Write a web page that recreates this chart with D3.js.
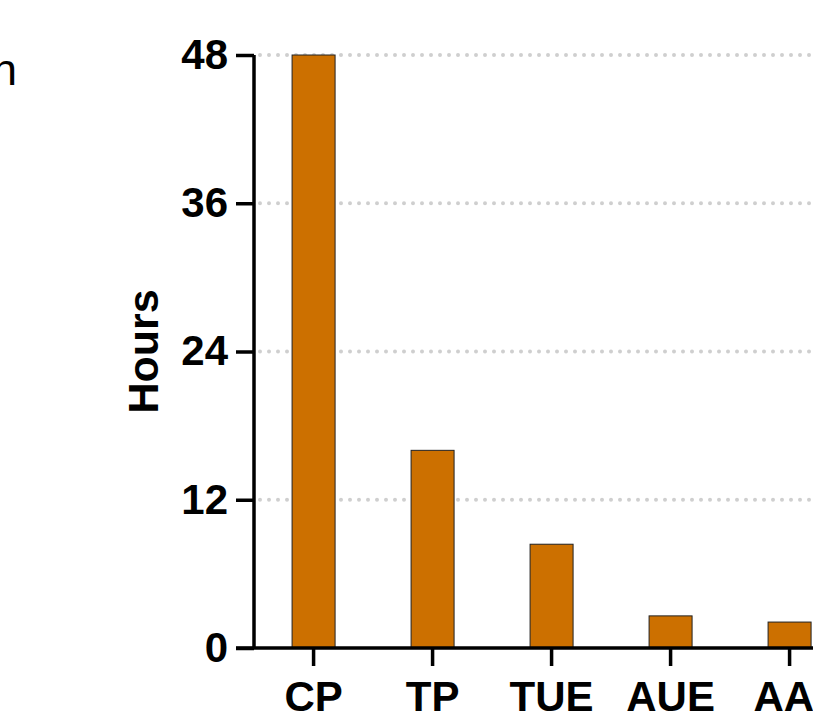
<!DOCTYPE html>
<html>
<head>
<meta charset="utf-8">
<script src="https://cdn.jsdelivr.net/npm/d3@7"></script>
<style>
  body { margin: 0; background: #fff; overflow: hidden; }
  svg { display: block; font-family: "Liberation Sans", Arial, sans-serif; }
</style>
</head>
<body>
<svg id="chart"></svg>
<script>
// data
const categories = ["CP", "TP", "TUE", "AUE", "AAI"];
const hours = [48, 16, 8.4, 2.6, 2.1];
const yTicks = [0, 12, 24, 36, 48];

const width = 813;
const height = 713;

const svg = d3.select("#chart")
    .attr("width", width)
    .attr("height", height);

// cut-off text on the left edge
svg.append("text")
    .attr("x", 17)
    .attr("y", 85)
    .attr("text-anchor", "end")
    .attr("font-size", 45)
    .text("n");

const axisX = 254;
const step = 119;
const pInner = 1 - 43 / step;
const pOuter = 0.32;

const x = d3.scaleBand()
    .domain(categories)
    .range([axisX, axisX + step * (categories.length - pInner + 2 * pOuter)])
    .paddingInner(pInner)
    .paddingOuter(pOuter);

const y = d3.scaleLinear()
    .domain([0, 48])
    .range([648, 55]);

// dotted grid lines
svg.append("g")
    .selectAll("line")
    .data(yTicks.filter(d => d > 0))
    .join("line")
    .attr("x1", axisX + 6)
    .attr("x2", width + 10)
    .attr("y1", d => y(d))
    .attr("y2", d => y(d))
    .attr("stroke", "#cfcfcf")
    .attr("stroke-width", 4)
    .attr("stroke-linecap", "round")
    .attr("stroke-dasharray", "0,9");

// bars
svg.append("g")
    .selectAll("rect")
    .data(categories)
    .join("rect")
    .attr("x", d => x(d))
    .attr("width", x.bandwidth())
    .attr("y", (d, i) => y(hours[i]))
    .attr("height", (d, i) => y(0) - y(hours[i]))
    .attr("fill", "#cc7000")
    .attr("stroke", "#222")
    .attr("stroke-width", 1);

// y axis
const yAxis = svg.append("g")
    .attr("transform", `translate(${axisX},0)`)
    .call(d3.axisLeft(y).tickValues(yTicks).tickSize(18).tickPadding(8));
yAxis.select(".domain").attr("stroke-width", 3.5).attr("d", `M0,${y(48)}V${y(0)}`);
yAxis.selectAll(".tick line").attr("stroke-width", 3.5);
yAxis.selectAll(".tick text")
    .attr("font-size", 42)
    .attr("font-weight", "bold")
    .attr("font-family", "Liberation Sans, Arial, sans-serif")
    .attr("fill", "#000");

// x axis
const xAxis = svg.append("g")
    .attr("transform", `translate(0,${y(0)})`)
    .call(d3.axisBottom(x).tickSize(18));
xAxis.select(".domain").attr("stroke-width", 3.5).attr("d", `M${axisX - 18},0H${width + 10}`);
xAxis.selectAll(".tick line").attr("stroke-width", 3.5);
xAxis.selectAll(".tick text")
    .attr("y", 63)
    .attr("dy", null)
    .attr("font-size", 42)
    .attr("font-weight", "bold")
    .attr("font-family", "Liberation Sans, Arial, sans-serif")
    .attr("fill", "#000");

// y axis title
svg.append("text")
    .attr("transform", `translate(158,${(y(0) + y(48)) / 2}) rotate(-90)`)
    .attr("text-anchor", "middle")
    .attr("font-size", 43)
    .attr("font-weight", "bold")
    .text("Hours");
</script>
</body>
</html>
